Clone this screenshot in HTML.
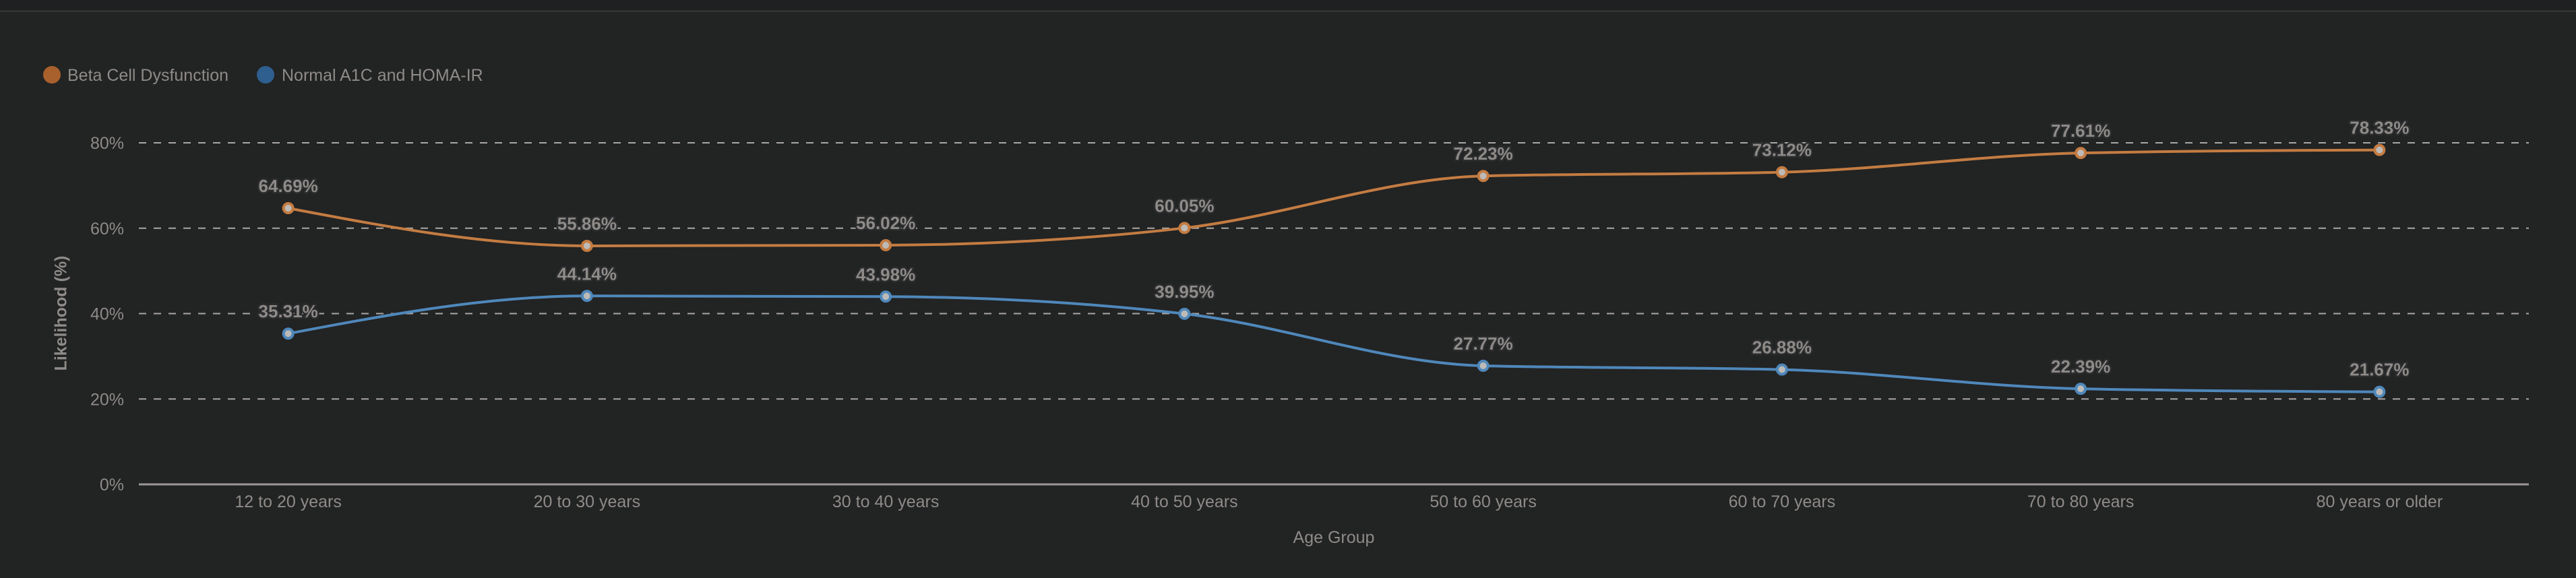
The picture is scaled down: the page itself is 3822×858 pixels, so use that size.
<!DOCTYPE html>
<html><head><meta charset="utf-8">
<style>
html,body{margin:0;padding:0;background:#222323;width:3822px;height:858px;overflow:hidden;}
svg{display:block;font-family:"Liberation Sans",sans-serif;}
</style></head>
<body>
<svg id="chart" width="3822" height="858" viewBox="0 0 3822 858">
  <rect x="0" y="0" width="3822" height="16" fill="#1f2021"/>
  <line x1="0" y1="16.5" x2="3822" y2="16.5" stroke="#3a3b3c" stroke-width="2"/>
  <g>
    <g>
      <circle cx="77" cy="111" r="13" fill="#a8602c"/>
      <text x="100" y="120" font-size="25" fill="#8e8b88">Beta Cell Dysfunction</text>
    </g>
    <g>
      <circle cx="394" cy="111" r="13" fill="#2e5f8e"/>
      <text x="418" y="120" font-size="25" fill="#8e8b88">Normal A1C and HOMA-IR</text>
    </g>
  </g>
  <g id="grid"></g>
  <g id="yticks"></g>
  <g id="xticks"></g>
  <text x="92" y="465" font-size="25" font-weight="bold" fill="#8e8b88" text-anchor="middle" transform="rotate(-90 92 465)" dominant-baseline="middle">Likelihood (%)</text>
  <text x="1979" y="806" font-size="25" fill="#8e8b88" text-anchor="middle">Age Group</text>
  <g id="series"></g>
</svg>
<script>
const categories = ["12 to 20 years","20 to 30 years","30 to 40 years","40 to 50 years","50 to 60 years","60 to 70 years","70 to 80 years","80 years or older"];
const betaValues = [64.69,55.86,56.02,60.05,72.23,73.12,77.61,78.33];
const normalValues = [35.31,44.14,43.98,39.95,27.77,26.88,22.39,21.67];
const yTicks = [0,20,40,60,80];

const NS="http://www.w3.org/2000/svg";
const L=206,R=3752,T=212,B=719,YMAX=80;
const band=(R-L)/categories.length;
const xs=i=>L+band*(i+0.5);
const ys=v=>B-(v/YMAX)*(B-T);
function mk(tag,attrs,parent){const e=document.createElementNS(NS,tag);for(const k in attrs)e.setAttribute(k,attrs[k]);parent.appendChild(e);return e;}

const grid=document.getElementById('grid'),yt=document.getElementById('yticks'),xt=document.getElementById('xticks'),ser=document.getElementById('series');
yTicks.forEach(t=>{
  const y=ys(t);
  const ln=mk('line',{x1:L,x2:R,y1:y,y2:y,stroke:t===0?'#9a9896':'#a9a7a5','stroke-width':t===0?3:2,'stroke-dasharray':t===0?'none':'11 11'},grid);
  
  
  const tx=mk('text',{x:184,y:y+9,'font-size':25,fill:'#8e8b88','text-anchor':'end'},yt);
  tx.textContent=t+'%';
  
  
});
categories.forEach((c,i)=>{
  const tx=mk('text',{x:xs(i),y:753,'font-size':25,fill:'#8e8b88','text-anchor':'middle'},xt);
  tx.textContent=c;
  
  
});

function monotonePath(pts){
  const n=pts.length,d=[],m=[];
  for(let i=0;i<n-1;i++){d.push((pts[i+1][1]-pts[i][1])/(pts[i+1][0]-pts[i][0]));}
  for(let i=0;i<n;i++){
    if(i===0)m.push(d[0]);else if(i===n-1)m.push(d[n-2]);
    else{ if(d[i-1]*d[i]<=0)m.push(0); else{const h0=pts[i][0]-pts[i-1][0],h1=pts[i+1][0]-pts[i][0];
      const p=(d[i-1]*h1+d[i]*h0)/(h0+h1);
      m.push((Math.sign(d[i-1])+Math.sign(d[i]))*Math.min(Math.abs(d[i-1]),Math.abs(d[i]),0.5*Math.abs(p)));}}
  }
  if(n>2){m[0]=(3*d[0]-m[1])/2; m[n-1]=(3*d[n-2]-m[n-2])/2;}
  let s='M'+pts[0][0]+','+pts[0][1];
  for(let i=0;i<n-1;i++){const h=(pts[i+1][0]-pts[i][0])/3;
    s+=' C'+(pts[i][0]+h)+','+(pts[i][1]+m[i]*h)+' '+(pts[i+1][0]-h)+','+(pts[i+1][1]-m[i+1]*h)+' '+pts[i+1][0]+','+pts[i+1][1];}
  return s;
}
function drawSeries(vals,color,name){
  const g=mk('g',{},ser);
  
  
  const pts=vals.map((v,i)=>[xs(i),ys(v)]);
  const p=mk('path',{d:monotonePath(pts),fill:'none',stroke:color,'stroke-width':4},g);
  
  
  vals.forEach((v,i)=>{
    const c=mk('circle',{cx:pts[i][0],cy:pts[i][1],r:7,fill:'#bdbab7',stroke:color,'stroke-width':4},g);
    
    
    const t=mk('text',{x:pts[i][0],y:pts[i][1]-24,'font-size':26,'font-weight':'bold',fill:'#8e8b88','text-anchor':'middle',stroke:'#2c2d2e','stroke-width':5,'paint-order':'stroke','stroke-linejoin':'round'},g);
    t.textContent=v.toFixed(2)+'%';
    
    
  });
}
drawSeries(betaValues,'#c47c42','beta-cell');
drawSeries(normalValues,'#4f88bb','normal');
</script>
</body></html>
